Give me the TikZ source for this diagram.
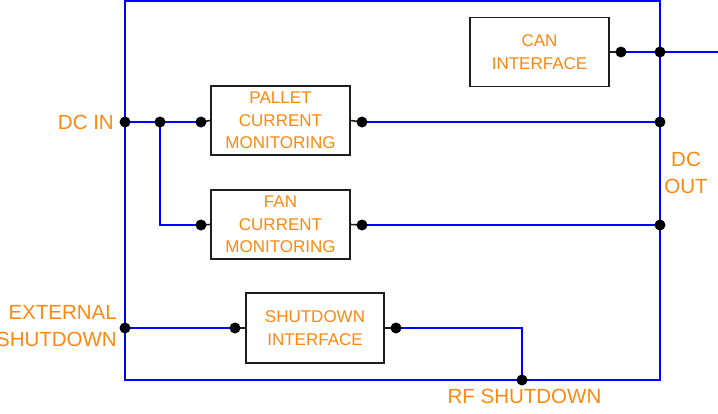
\documentclass[tikz,border=0pt]{standalone}
\usepackage{fontspec}
\setmainfont{Liberation Sans}
\usetikzlibrary{backgrounds}
\definecolor{lbl}{RGB}{255,135,15}
\definecolor{edgegray}{RGB}{30,30,30}
\begin{document}
\begin{tikzpicture}[x=1pt,y=-1pt,
  block/.style={draw=edgegray, line width=1.6pt, fill=white, minimum width=139pt,
    minimum height=69pt, align=center, text=lbl, inner sep=0pt,
    font=\fontsize{17}{22.5}\selectfont},
  dot/.style={circle, fill=black, inner sep=0pt, minimum size=11pt},
  wire/.style={draw=blue, line width=1.6pt},
  stub/.style={draw=edgegray, line width=1.6pt},
  tag/.style={text=lbl, inner sep=0pt, font=\fontsize{20.5}{27}\selectfont}]

\useasboundingbox (0,0) rectangle (718,413);

% functional blocks
\node[block] (can) at (539.5,52) {CAN\\INTERFACE};
\node[block] (pallet) at (280.5,120.5) {PALLET\\CURRENT\\MONITORING};
\node[block] (fan) at (280.5,224.5) {FAN\\CURRENT\\MONITORING};
\node[block, minimum width=138pt, minimum height=70pt] (shut) at (315,328) {SHUTDOWN\\INTERFACE};

% connection points
\node[dot] (dcin) at (125,122) {};
\node[dot] (split) at (160,122) {};
\node[dot] (pin) at (201,122) {};
\node[dot] (pout) at (362,122) {};
\node[dot] (pdc) at (660,122) {};
\node[dot] (fin) at (201,225) {};
\node[dot] (fout) at (362,225) {};
\node[dot] (fdc) at (660,225) {};
\node[dot] (canp) at (621,52) {};
\node[dot] (canbus) at (660,52) {};
\coordinate (canend) at (718,52);
\node[dot] (extin) at (125,328) {};
\node[dot] (sin) at (235,328) {};
\node[dot] (sout) at (396,328) {};
\node[dot] (rf) at (522,380) {};

\begin{scope}[on background layer]
  % enclosure
  \draw[wire] (125,0.8) rectangle (660,380);
  % power and signal wiring
  \draw[wire] (dcin.center) -- (pin.center);
  \draw[wire] (split.center) |- (fin.center);
  \draw[wire] (pout.center) -- (pdc.center);
  \draw[wire] (fout.center) -- (fdc.center);
  \draw[wire] (canp.center) -- (canbus.center) -- (canend);
  \draw[wire] (extin.center) -- (sin.center);
  \draw[wire] (sout.center) -| (rf.center);
  % pins of the blocks
  \draw[stub] (pin.center) -- (pallet.west);
  \draw[stub] (pallet.east) -- (pout.center);
  \draw[stub] (fin.center) -- (fan.west);
  \draw[stub] (fan.east) -- (fout.center);
  \draw[stub] (can.east) -- (canp.center);
  \draw[stub] (sin.center) -- (shut.west);
  \draw[stub] (shut.east) -- (sout.center);
\end{scope}

% port labels
\node[tag, anchor=east] (dcinlbl) at (114,122) {DC IN};
\node[tag, anchor=east, align=right] (extlbl) at (117,326.5) {EXTERNAL\\SHUTDOWN};
\node[tag, align=center] (dcoutlbl) at (686,173) {DC\\OUT};
\node[tag] (rflbl) at (524.5,396) {RF SHUTDOWN};
\end{tikzpicture}
\end{document}
